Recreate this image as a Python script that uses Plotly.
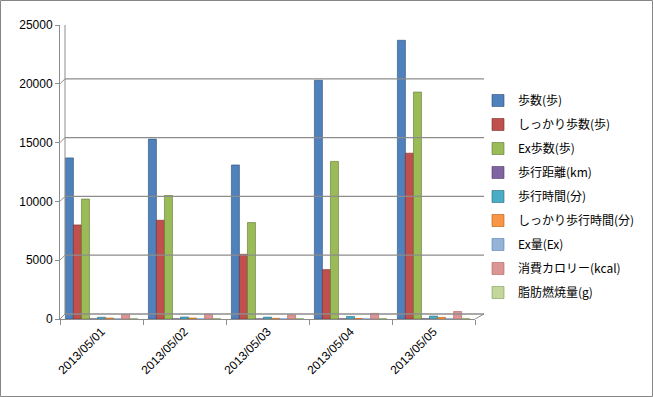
import plotly.graph_objects as go

dates = ["2013/05/01", "2013/05/02", "2013/05/03", "2013/05/04", "2013/05/05"]
series_names = ["歩数(歩)", "しっかり歩数(歩)", "Ex歩数(歩)", "歩行距離(km)", "歩行時間(分)",
                "しっかり歩行時間(分)", "Ex量(Ex)", "消費カロリー(kcal)", "脂肪燃焼量(g)"]
steps = [13700, 15300, 13100, 20300, 23700]
firm_steps = [8000, 8400, 5500, 4200, 14100]
ex_steps = [10200, 10500, 8200, 13400, 19300]
distance_km = [9.5, 10.6, 9.1, 14.2, 16.6]
walk_min = [150, 170, 160, 220, 250]
firm_walk_min = [80, 85, 55, 45, 140]
ex_amount = [4.5, 4.7, 3.6, 5.9, 8.5]
calories = [380, 410, 360, 480, 640]
fat_g = [30, 32, 27, 38, 50]
y_ticks = [0, 5000, 10000, 15000, 20000, 25000]

series_values = [steps, firm_steps, ex_steps, distance_km, walk_min,
                 firm_walk_min, ex_amount, calories, fat_g]
colors = ["#4F81BD", "#C0504D", "#9BBB59", "#8064A2", "#4BACC6",
          "#F79646", "#95B3D7", "#D99694", "#C3D69B"]
edge = ["#2C4D75", "#772C2A", "#5F7530", "#4D3B62", "#276A7C",
        "#B65708", "#4F81BD", "#B65E5C", "#7E9A4A"]

W, H = 653, 397
L, R, T, B = 60, 178, 25, 78
pw, ph = W - L - R, H - T - B
ymax = 25000

fig = go.Figure()
for i, (name, vals) in enumerate(zip(series_names, series_values)):
    fig.add_trace(go.Bar(
        x=dates, y=vals, name=name, legendgroup=f"g{i}",
        marker=dict(color=colors[i], line=dict(color=edge[i], width=0.6)),
    ))

# 3D-like frame: back-wall gridlines offset
dx_px, dy_px = 5, 5
dx = dx_px / pw
dy = dy_px / ph * ymax
shapes = []
grid_col = "#8C8C8C"
for v in y_ticks:
    shapes.append(dict(type="line", xref="paper", yref="y", x0=0, y0=v, x1=dx, y1=v + dy,
                       line=dict(color=grid_col, width=1)))
    shapes.append(dict(type="line", xref="paper", yref="y", x0=dx, y0=v + dy,
                       x1=1 + 9 / pw, y1=v + dy, line=dict(color=grid_col, width=1.3)))
# back wall left edge
shapes.append(dict(type="line", xref="paper", yref="y", x0=dx, y0=dy, x1=dx, y1=ymax + dy,
                   line=dict(color=grid_col, width=1)))
# floor right edge
shapes.append(dict(type="line", xref="paper", yref="y", x0=1, y0=0, x1=1 + 9 / pw, y1=dy,
                   line=dict(color=grid_col, width=1)))
# outer border
shapes.append(dict(type="rect", xref="paper", yref="paper",
                   x0=(0.5 - L) / pw, x1=(W - 0.5 - L) / pw,
                   y0=-(B - 0.5) / ph, y1=1 + (T - 0.5) / ph,
                   line=dict(color="#868686", width=1), fillcolor="rgba(0,0,0,0)"))

fig.update_layout(
    width=W, height=H,
    margin=dict(l=L, r=R, t=T, b=B, autoexpand=False),
    paper_bgcolor="white", plot_bgcolor="white",
    barmode="group", bargap=0.13, bargroupgap=0,
    font=dict(family="Liberation Sans, Arial, sans-serif", size=11, color="#000"),
    xaxis=dict(type="category", tickangle=-45, showgrid=False, showline=True,
               linecolor=grid_col, ticks="outside", ticklen=5, tickcolor=grid_col,
               tickson="boundaries", tickfont=dict(size=12)),
    yaxis=dict(range=[0, ymax], tickvals=y_ticks, tickformat="d", showgrid=False,
               showline=True, linecolor=grid_col, ticks="outside", ticklen=4,
               tickcolor=grid_col, zeroline=False, tickfont=dict(size=12)),
    legend=dict(xref="container", yref="container", x=478 / W, y=1 - 86 / H,
                xanchor="left", yanchor="top", tracegroupgap=5, maxheight=300,
                font=dict(family="Noto Sans CJK JP, sans-serif", size=12),
                itemwidth=30, bgcolor="rgba(0,0,0,0)"),
    shapes=shapes,
    showlegend=True,
)

fig.write_html("out.html", config={"displayModeBar": False},
               post_script="document.body.style.margin='0';document.body.style.overflow='hidden';")
